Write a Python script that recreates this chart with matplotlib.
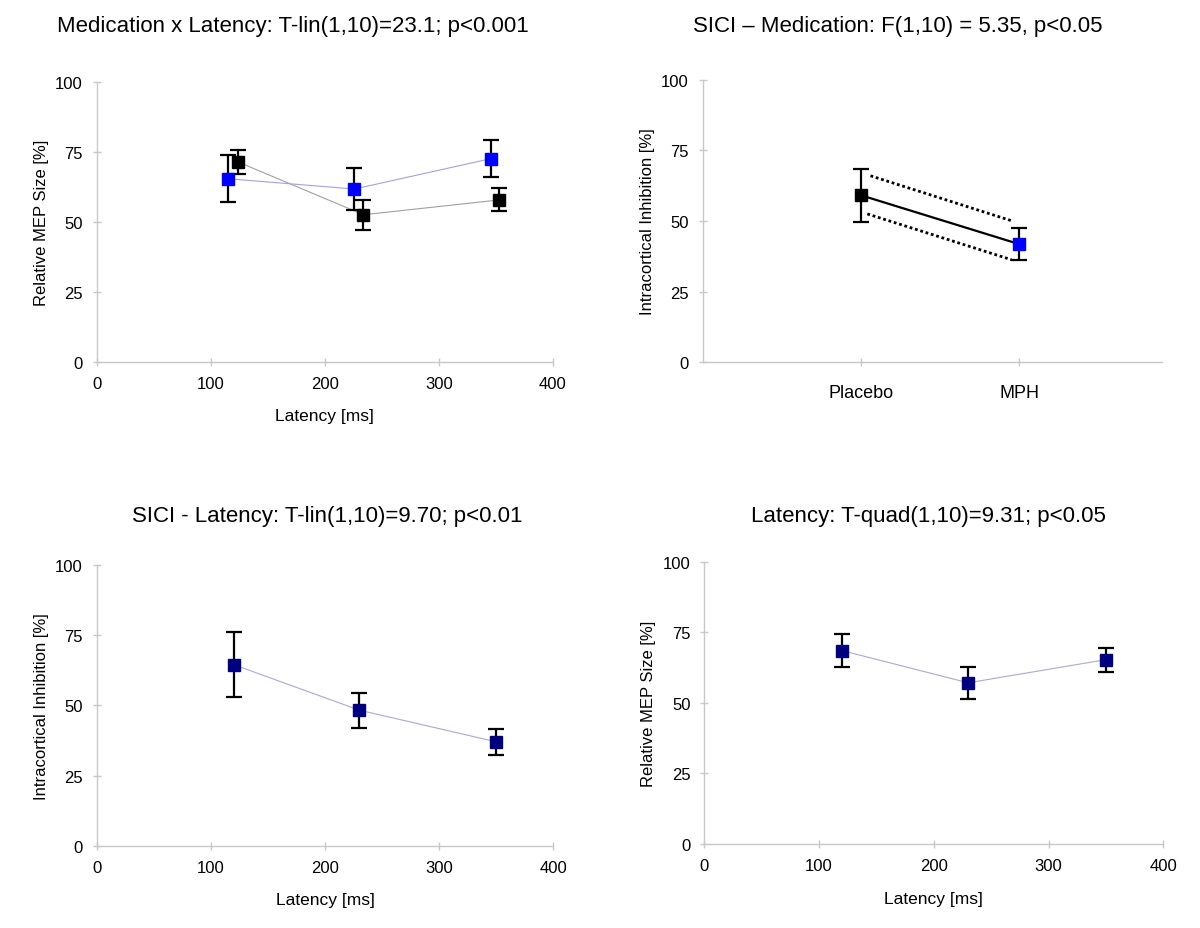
import matplotlib
matplotlib.use('Agg')
import matplotlib.pyplot as plt

plt.rcParams['font.family'] = ['Liberation Sans', 'DejaVu Sans']

# Medication x Latency (top left)
mph_latency = [115, 226, 346]
mph_mep = [65.5, 61.8, 72.7]
mph_mep_err = [8.5, 7.5, 6.5]
placebo_latency = [124, 234, 353]
placebo_mep = [71.5, 52.6, 57.9]
placebo_mep_err = [4.4, 5.4, 4.1]

# SICI - Medication (top right)
medication = ['Placebo', 'MPH']
sici_med = [59.1, 41.8]
sici_med_err = [9.3, 5.7]
band_upper_x = [1.06, 1.95]
band_upper_y = [66.0, 50.1]
band_lower_x = [1.04, 1.95]
band_lower_y = [52.5, 36.3]

# SICI - Latency (bottom left)
latency = [120, 230, 350]
sici_lat = [64.5, 48.3, 37.0]
sici_lat_err = [11.5, 6.2, 4.6]

# Latency T-quad (bottom right)
mep_lat = [68.5, 57.1, 65.3]
mep_lat_err = [5.9, 5.7, 4.3]

yticks = [0, 25, 50, 75, 100]
xticks = [0, 100, 200, 300, 400]

GRID = '#c8c8c8'


def style_axis(ax, ylabel, xlabel=None):
    for s in ['top', 'right']:
        ax.spines[s].set_visible(False)
    for s in ['left', 'bottom']:
        ax.spines[s].set_color(GRID)
        ax.spines[s].set_linewidth(1)
    ax.tick_params(direction='inout', length=6, width=1, color=GRID,
                   labelsize=12, pad=7)
    ax.set_ylim(0, 100)
    ax.set_yticks(yticks)
    ax.set_ylabel(ylabel, fontsize=12)
    ax.yaxis.set_label_coords(-0.105, 0.5)
    if xlabel:
        ax.set_xlim(0, 400)
        ax.set_xticks(xticks)
        ax.set_xlabel(xlabel, fontsize=12.5)
        ax.xaxis.set_label_coords(0.5, -0.165)


def errpoints(ax, x, y, err, color, line_color, lw=1):
    ax.plot(x, y, color=line_color, lw=lw, zorder=2)
    ax.errorbar(x, y, yerr=err, fmt='none', ecolor='black', elinewidth=1.6,
                capsize=6, capthick=1.6, zorder=3)
    ax.plot(x, y, ls='none', marker='s', ms=9, color=color, zorder=4)


fig = plt.figure(figsize=(12, 9.29), dpi=100)

ax1 = fig.add_axes([0.0806, 0.6096, 0.38, 0.3007])
errpoints(ax1, placebo_latency, placebo_mep, placebo_mep_err, 'black', '#a0a0a0', 0.8)
errpoints(ax1, mph_latency, mph_mep, mph_mep_err, '#0000ff', '#a0a0f0', 0.8)
style_axis(ax1, 'Relative MEP Size [%]', 'Latency [ms]')

ax2 = fig.add_axes([0.5856, 0.609, 0.3825, 0.3041])
pos = [1, 2]
ax2.plot(pos, sici_med, color='black', lw=1.6, zorder=2)
ax2.plot(band_upper_x, band_upper_y, color='black', lw=2, ls=(0, (1, 1)))
ax2.plot(band_lower_x, band_lower_y, color='black', lw=2, ls=(0, (1, 1)))
ax2.errorbar(pos, sici_med, yerr=sici_med_err, fmt='none', ecolor='black',
             elinewidth=1.6, capsize=6, capthick=1.6, zorder=3)
ax2.plot(pos[0], sici_med[0], marker='s', ms=9, color='black', zorder=4)
ax2.plot(pos[1], sici_med[1], marker='s', ms=9, color='#0000ff', zorder=4)
style_axis(ax2, 'Intracortical Inhibition [%]')
ax2.set_xlim(0, 2.9)
ax2.set_xticks(pos)
ax2.set_xticklabels(medication, fontsize=13)
ax2.tick_params(axis='x', pad=12.5)

ax3 = fig.add_axes([0.0806, 0.0886, 0.3805, 0.3021])
errpoints(ax3, latency, sici_lat, sici_lat_err, '#000080', '#a8a8dc', 0.8)
style_axis(ax3, 'Intracortical Inhibition [%]', 'Latency [ms]')

ax4 = fig.add_axes([0.5869, 0.0904, 0.3825, 0.3039])
errpoints(ax4, latency, mep_lat, mep_lat_err, '#000080', '#a8a8dc', 0.8)
style_axis(ax4, 'Relative MEP Size [%]', 'Latency [ms]')

fig.text(0.244, 0.971, 'Medication x Latency: T-lin(1,10)=23.1; p<0.001',
         ha='center', va='center', fontsize=16)
fig.text(0.748, 0.971, 'SICI \u2013 Medication: F(1,10) = 5.35, p<0.05',
         ha='center', va='center', fontsize=16)
fig.text(0.273, 0.4435, 'SICI - Latency: T-lin(1,10)=9.70; p<0.01',
         ha='center', va='center', fontsize=16)
fig.text(0.774, 0.4435, 'Latency: T-quad(1,10)=9.31; p<0.05',
         ha='center', va='center', fontsize=16)

fig.savefig('out.png', dpi=100, facecolor='white')
